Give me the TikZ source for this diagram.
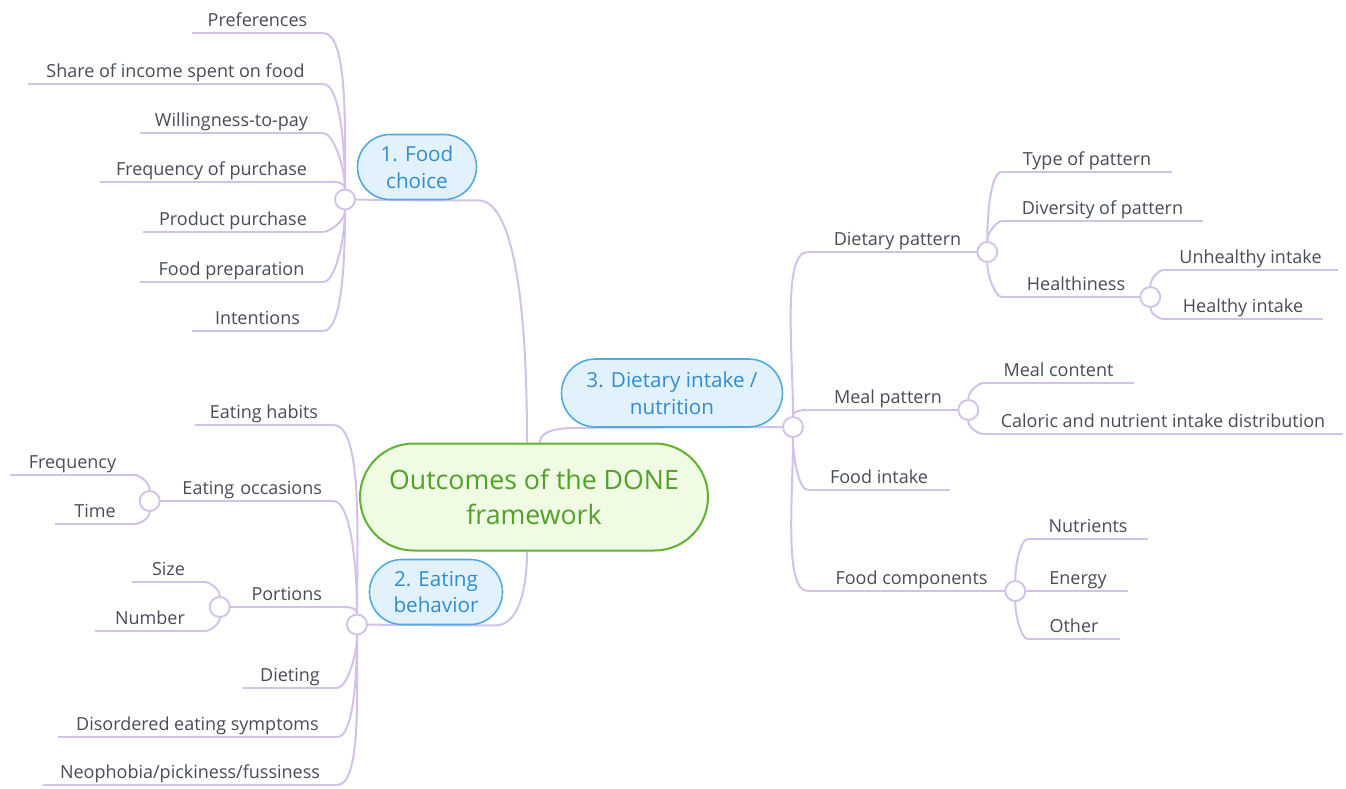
\documentclass[tikz,border=0pt]{standalone}
\usepackage{fontspec}
\setmainfont{Open Sans}
\usetikzlibrary{calc,shapes.misc}
\definecolor{linec}{RGB}{210,194,235}
\definecolor{txt}{RGB}{72,76,88}
\definecolor{tfill}{RGB}{226,242,252}
\definecolor{tdraw}{RGB}{82,170,224}
\definecolor{ttext}{RGB}{50,140,210}
\definecolor{cfill}{RGB}{240,251,228}
\definecolor{cdraw}{RGB}{98,178,50}
\definecolor{ctext}{RGB}{82,160,40}
\pgfdeclarelayer{bg}
\pgfsetlayers{bg,main}
\newcommand{\leafnode}[5]{\node[leaf, minimum width={(#3-#2)*0.75pt}] (#1) at ({(#2+#3)/2},#4) {#5};}
\newcommand{\leafnodeR}[6]{\node[leaf, align=right, inner xsep={#6*0.75pt}, text width={(#3-#2-2*#6)*0.75pt}] (#1) at ({(#2+#3)/2},#4) {#5};}
\tikzset{
  conn/.style={draw=linec, line width=1.5pt},
  leaf/.style={anchor=south, text=txt, font=\fontsize{13.5}{16}\selectfont, text height=9.5pt, text depth=3pt, inner ysep=1.6pt, inner xsep=0pt},
  hub/.style={circle, draw=linec, fill=white, line width=1.4pt, minimum size=15pt, inner sep=0pt},
  topic/.style={rounded rectangle, draw=tdraw, fill=tfill, text=ttext, line width=1.2pt, align=center, font=\fontsize{15.5}{20}\selectfont, inner sep=0pt},
  central/.style={rounded rectangle, draw=cdraw, fill=cfill, text=ctext, line width=1.5pt, align=center, font=\fontsize{20}{26}\selectfont, inner sep=0pt, minimum width={348*0.75pt}, minimum height={107*0.75pt}},
  lu/.style={out=0,in=90,out looseness=0.4,in looseness=1},
  ld/.style={out=0,in=-90,out looseness=0.4,in looseness=1},
  ru/.style={out=180,in=90,out looseness=0.4,in looseness=1},
  rd/.style={out=180,in=-90,out looseness=0.4,in looseness=1},
}
\begin{document}
\begin{tikzpicture}[x=0.75pt,y=-0.75pt]
\useasboundingbox (0,0) rectangle (1346,789);
% central
\node[central] (ctr) at (534,497) {Outcomes of the DONE\\framework};
% topics
\node[topic, minimum width={119*0.75pt}, minimum height={65*0.75pt}] (fc) at (417,167) {1. Food\\choice};
\node[topic, minimum width={133*0.75pt}, minimum height={65*0.75pt}] (eb) at (436,592) {2. Eating\\behavior};
\node[topic, minimum width={221*0.75pt}, minimum height={68*0.75pt}] (di) at (672,393) {3. Dietary intake /\\nutrition};
\node[hub] (h1) at (345,199.5) {};
\node[hub] (h2) at (357,624.5) {};
\node[hub] (h3) at (793,427) {};
% food choice leaves
\leafnode{fc1}{192}{323}{33}{Preferences}
\leafnode{fc2}{28}{323}{84}{Share of income spent on food}
\leafnode{fc3}{140}{323}{133}{Willingness-to-pay}
\leafnode{fc4}{100}{323}{182}{Frequency of purchase}
\leafnode{fc5}{143}{323}{232}{Product purchase}
\leafnode{fc6}{140}{323}{282}{Food preparation}
\leafnode{fc7}{192}{323}{331}{Intentions}
% eating behavior leaves
\leafnode{eb1}{195}{333}{425}{Eating habits}
\leafnodeR{eb2}{150}{333}{501}{Eating occasions}{11}
\leafnodeR{eb3}{220}{337}{607}{Portions}{15}
\leafnode{eb4}{243}{337}{688}{Dieting}
\leafnode{eb5}{58}{337}{737}{Disordered eating symptoms}
\leafnode{eb6}{43}{337}{785}{Neophobia/pickiness/fussiness}
\node[hub] (sEO) at (eb2.south west) {};
\node[hub] (sPO) at (eb3.south west) {};
\leafnode{eo1}{10}{135}{475}{Frequency}
\leafnode{eo2}{55}{135}{524}{Time}
\leafnode{po1}{132}{205}{582}{Size}
\leafnode{po2}{95}{205}{631}{Number}
% dietary intake leaves
\leafnode{di1}{808}{987}{252}{Dietary pattern}
\leafnode{di2}{808}{968}{410}{Meal pattern}
\leafnode{di3}{808}{950}{490}{Food intake}
\leafnode{di4}{808}{1015}{591}{Food components}
\node[hub] (sDP) at (di1.south east) {};
\node[hub] (sMP) at (di2.south east) {};
\node[hub] (sFC) at (di4.south east) {};
\leafnode{dp1}{1002}{1172}{172}{Type of pattern}
\leafnode{dp2}{1002}{1203}{221}{Diversity of pattern}
\leafnode{dp3}{1002}{1150}{297}{Healthiness}
\node[hub] (sH) at (dp3.south east) {};
\leafnode{hl1}{1163}{1338}{270}{Unhealthy intake}
\leafnode{hl2}{1163}{1323}{319}{Healthy intake}
\leafnode{mp1}{983}{1134}{383}{Meal content}
\leafnode{mp2}{983}{1343}{434}{Caloric and nutrient intake distribution}
\leafnode{fp1}{1028}{1148}{539}{Nutrients}
\leafnode{fp2}{1028}{1128}{591}{Energy}
\leafnode{fp3}{1028}{1120}{639}{Other}
\begin{pgfonlayer}{bg}
\fill[white] (0,0) rectangle (1346,789);
\foreach \n in {fc1,fc2,fc3,fc4,fc5,fc6,fc7,eb1,eb2,eb3,eb4,eb5,eb6,eo1,eo2,po1,po2,di1,di2,di3,di4,dp1,dp2,dp3,hl1,hl2,mp1,mp2,fp1,fp2,fp3}
  \draw[conn] (\n.south west) -- (\n.south east);
% central to topics
\draw[conn] (fc.south) -- ++(61,0) .. controls +(35,0) and (527,300) .. ([xshift=-5.25pt]ctr.north);
\draw[conn] (eb.south) -- ++(60,0) .. controls +(22,0) and (527,590) .. ([xshift=-5.25pt]ctr.south);
\draw[conn] ([xshift=4.5pt]ctr.north) .. controls +(0,-12) and +(-22,0) .. ($(di.south)+(-92,0)$) -- (h3);
\draw[conn] (h1) -- (fc.south);
\draw[conn] (h2) -- (eb.south);
% food choice
\foreach \n in {fc1,fc2,fc3,fc4} \draw[conn] (\n.south east) to[lu] (h1);
\foreach \n in {fc5,fc6,fc7} \draw[conn] (\n.south east) to[ld] (h1);
% eating behavior
\foreach \n in {eb1,eb2,eb3} \draw[conn] (\n.south east) to[lu] (h2);
\foreach \n in {eb4,eb5,eb6} \draw[conn] (\n.south east) to[ld] (h2);
\draw[conn] (eo1.south east) to[lu] (sEO);
\draw[conn] (eo2.south east) to[ld] (sEO);
\draw[conn] (po1.south east) to[lu] (sPO);
\draw[conn] (po2.south east) to[ld] (sPO);
% dietary intake
\foreach \n in {di1,di2} \draw[conn] (\n.south west) to[ru] (h3);
\foreach \n in {di3,di4} \draw[conn] (\n.south west) to[rd] (h3);
\foreach \n in {dp1,dp2} \draw[conn] (\n.south west) to[ru] (sDP);
\draw[conn] (dp3.south west) to[rd] (sDP);
\draw[conn] (hl1.south west) to[ru] (sH);
\draw[conn] (hl2.south west) to[rd] (sH);
\draw[conn] (mp1.south west) to[ru] (sMP);
\draw[conn] (mp2.south west) to[rd] (sMP);
\draw[conn] (fp1.south west) to[ru] (sFC);
\draw[conn] (fp2.south west) -- (sFC);
\draw[conn] (fp3.south west) to[rd] (sFC);
\end{pgfonlayer}
\end{tikzpicture}
\end{document}
